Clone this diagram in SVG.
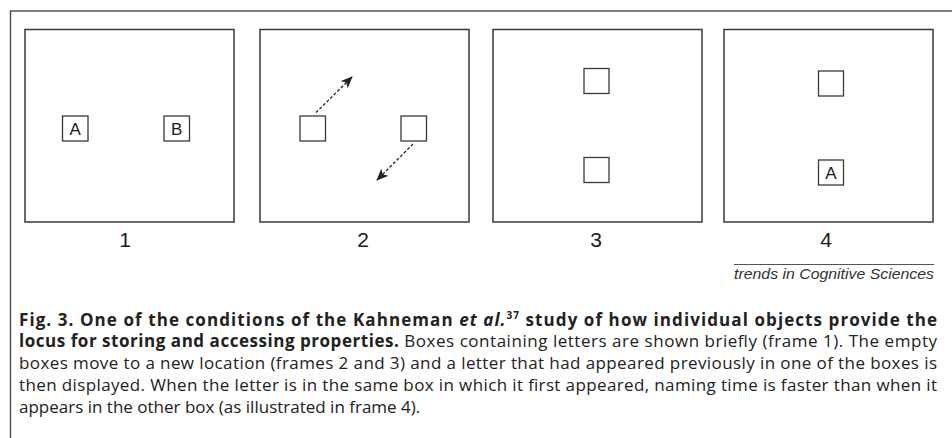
<svg xmlns="http://www.w3.org/2000/svg" width="952" height="438" viewBox="0 0 952 438">
<style>
.frame{fill:#fff;stroke:#3a3a3a;stroke-width:1.5}
.box{fill:#fff;stroke:#3a3a3a;stroke-width:1.3}
.lbl{font-family:"Liberation Sans",Arial,sans-serif;font-size:21px;fill:#1a1a1a;text-anchor:middle}
.let{font-family:"Liberation Sans",Arial,sans-serif;font-size:17px;fill:#1a1a1a;text-anchor:middle}
.cap{font-family:"Open Sans","Noto Sans",sans-serif;font-size:17px;fill:#222}
.b{font-weight:bold}
.conn{stroke:#222;stroke-width:1.3;stroke-dasharray:3 2;fill:none}
</style>
<defs>
<marker id="ah" viewBox="0 0 12 10" refX="11" refY="5" markerWidth="12" markerHeight="10" markerUnits="userSpaceOnUse" orient="auto">
<path d="M0,0 L12,5 L0,10 L3,5 Z" fill="#222"/>
</marker>
</defs>
<rect width="952" height="438" fill="#fff"/>
<path d="M952,11 H10.5 V438" fill="none" stroke="#555" stroke-width="1.5"/>

<g id="frame1">
<rect class="frame" x="25" y="29.5" width="209" height="192.5"/>
<g id="f1-boxA"><rect class="box" x="62.5" y="116" width="25.5" height="25"/><text class="let" x="75.2" y="134.8">A</text></g>
<g id="f1-boxB"><rect class="box" x="164" y="116" width="25.5" height="25"/><text class="let" x="176.7" y="134.8">B</text></g>
<text class="lbl" x="125" y="247">1</text>
</g>

<g id="frame2">
<rect class="frame" x="260" y="29.5" width="209" height="192.5"/>
<g id="f2-box1"><rect class="box" x="300" y="116" width="25.5" height="25"/></g>
<g id="f2-box2"><rect class="box" x="401" y="116" width="25.5" height="25"/></g>
<text class="lbl" x="363" y="247">2</text>
</g>

<g id="frame3">
<rect class="frame" x="493" y="29.5" width="209" height="192.5"/>
<g id="f3-box1"><rect class="box" x="584" y="68.5" width="25" height="25"/></g>
<g id="f3-box2"><rect class="box" x="584" y="157.5" width="25" height="25"/></g>
<text class="lbl" x="596" y="247">3</text>
</g>

<g id="frame4">
<rect class="frame" x="724" y="29.5" width="209" height="192.5"/>
<g id="f4-box1"><rect class="box" x="818.5" y="71" width="25" height="25"/></g>
<g id="f4-box2"><rect class="box" x="818.5" y="160" width="25" height="25"/><text class="let" x="831" y="178.8">A</text></g>
<text class="lbl" x="826" y="247">4</text>
</g>

<g id="connectors">
<line class="conn" x1="316" y1="112.5" x2="352" y2="77" marker-end="url(#ah)"/>
<line class="conn" x1="413" y1="144" x2="377" y2="180" marker-end="url(#ah)"/>
</g>

<g id="credit">
<line x1="734" y1="264.5" x2="934" y2="264.5" stroke="#555" stroke-width="1"/>
<text x="734" y="278.5" textLength="200" lengthAdjust="spacingAndGlyphs" font-family="Liberation Sans,Arial,sans-serif" font-style="italic" font-size="15" fill="#333">trends in Cognitive Sciences</text>
</g>

<g id="caption" class="cap">
<text x="19" y="325.5" textLength="918" lengthAdjust="spacing"><tspan class="b">Fig. 3. One of the conditions of the Kahneman </tspan><tspan class="b" font-style="italic">et al.</tspan><tspan class="b" font-size="10" dy="-7">37</tspan><tspan class="b" dy="7"> study of how individual objects provide the</tspan></text>
<text x="19" y="347" textLength="918" lengthAdjust="spacing"><tspan class="b">locus for storing and accessing properties.</tspan> Boxes containing letters are shown briefly (frame 1). The empty</text>
<text x="19" y="369" textLength="918" lengthAdjust="spacing">boxes move to a new location (frames 2 and 3) and a letter that had appeared previously in one of the boxes is</text>
<text x="19" y="391" textLength="918" lengthAdjust="spacing">then displayed. When the letter is in the same box in which it first appeared, naming time is faster than when it</text>
<text x="19" y="413">appears in the other box (as illustrated in frame 4).</text>
</g>
</svg>
